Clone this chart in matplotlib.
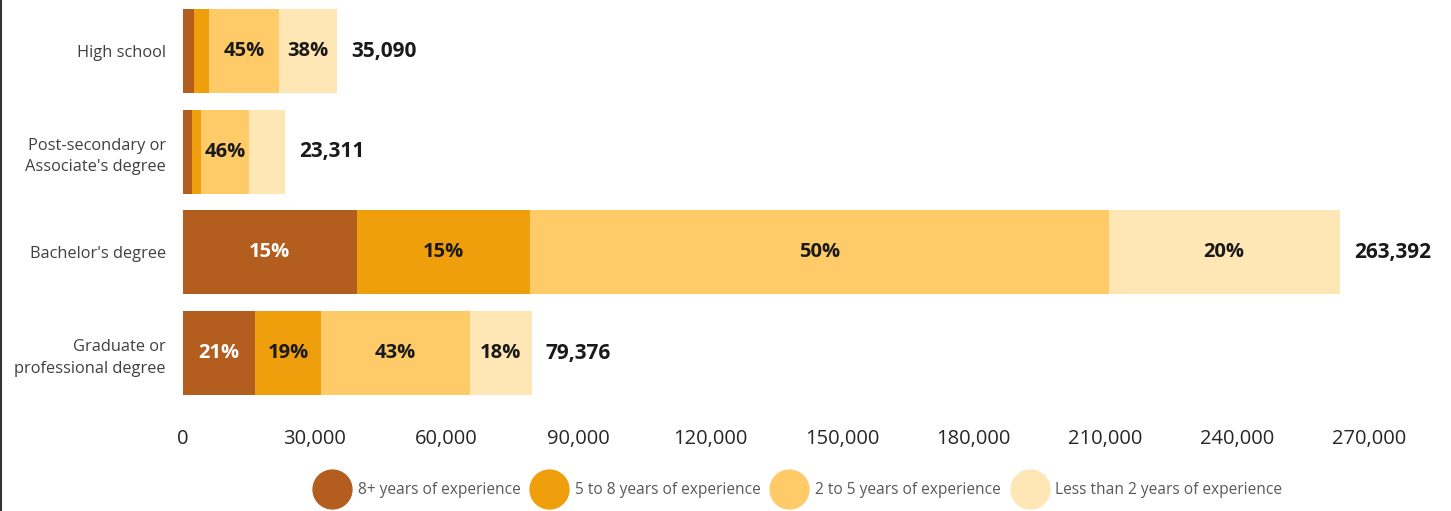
import numpy as np
import matplotlib.pyplot as plt
from matplotlib.lines import Line2D

plt.rcParams['font.family'] = ['Open Sans', 'DejaVu Sans']

# categories, top to bottom
categories = ['High school', 'Post-secondary or\nAssociate\'s degree',
              'Bachelor\'s degree', 'Graduate or\nprofessional degree']
totals = [35090, 23311, 263392, 79376]

# share of each group (percent)
exp_8plus = [7, 9, 15, 21]
exp_5to8 = [10, 9, 15, 19]
exp_2to5 = [45, 46, 50, 43]
exp_lt2 = [38, 36, 20, 18]

# which percentages are written on the bars
show_8plus = [False, False, True, True]
show_5to8 = [False, False, True, True]
show_2to5 = [True, True, True, True]
show_lt2 = [True, False, True, True]

series_names = ['8+ years of experience', '5 to 8 years of experience',
                '2 to 5 years of experience', 'Less than 2 years of experience']
colors = ['#B35E1F', '#F09F0C', '#FFCB69', '#FFE6B5']
text_colors = ['white', '#1a1a1a', '#1a1a1a', '#1a1a1a']

xticks = [0, 30000, 60000, 90000, 120000, 150000, 180000, 210000, 240000, 270000]

fig = plt.figure(figsize=(14.51, 5.11), dpi=100)
ax = fig.add_axes([183 / 1451, 1 - 403.5 / 511, (1369 - 183) / 1451, 402.8 / 511])

shares = np.array([exp_8plus, exp_5to8, exp_2to5, exp_lt2], dtype=float)
shows = [show_8plus, show_5to8, show_2to5, show_lt2]
tot = np.array(totals, dtype=float)
# scale the percentages so each bar ends at its total
widths = shares / shares.sum(axis=0) * tot
y = np.arange(len(categories))

left = np.zeros(len(categories))
for k in range(4):
    ax.barh(y, widths[k], left=left, height=0.835, color=colors[k],
            label=series_names[k])
    for i in range(len(categories)):
        if shows[k][i]:
            ax.text(left[i] + widths[k][i] / 2, y[i], '%d%%' % shares[k][i],
                    ha='center', va='center', fontsize=14.5, fontweight='bold',
                    color=text_colors[k])
    left = left + widths[k]

# totals at the end of every bar
for i in range(len(categories)):
    ax.annotate('{:,}'.format(totals[i]), (totals[i], y[i]), xytext=(10, 0),
                textcoords='offset points', ha='left', va='center',
                fontsize=15, fontweight='bold', color='#1a1a1a',
                annotation_clip=False)

ax.set_xlim(0, 270000)
ax.set_ylim(3.5, -0.5)
ax.set_yticks(y)
ax.set_yticklabels(categories, fontsize=11.8, color='#404040', linespacing=1.45)
ax.set_xticks(xticks)
ax.set_xticklabels(['{:,}'.format(t) for t in xticks], fontsize=14.5, color='#262626')
ax.tick_params(axis='x', length=0, pad=18)
ax.tick_params(axis='y', length=0, pad=12.5)
for s in ax.spines.values():
    s.set_visible(False)

# legend with round markers
handles = [Line2D([], [], marker='o', linestyle='', markersize=28,
                  markerfacecolor=c, markeredgecolor=c) for c in colors]
fig.legend(handles, series_names, loc='center', bbox_to_anchor=(797 / 1451, 1 - 490 / 511),
           ncol=4, frameon=False, fontsize=11.2, labelcolor='#595959',
           handletextpad=0.35, columnspacing=0.55, handlelength=2.6)

# border on the left edge
fig.add_artist(Line2D([0.001, 0.001], [0, 1], color='#333333', linewidth=1.5))

fig.savefig('out.png', dpi=100)
